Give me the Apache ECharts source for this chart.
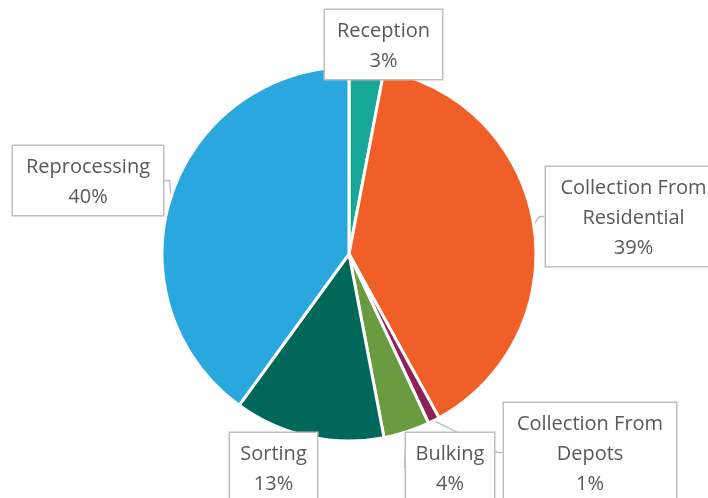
<!DOCTYPE html>
<html>
<head>
<meta charset="utf-8">
<script src="https://cdn.jsdelivr.net/npm/echarts@6/dist/echarts.min.js"></script>
<style>
  html, body { margin: 0; padding: 0; background: #fff; }
  #chart { width: 708px; height: 498px; }
</style>
</head>
<body>
<div id="chart"></div>
<script>
// data
var categories = ['Reception', 'Collection From Residential', 'Collection From Depots', 'Bulking', 'Sorting', 'Reprocessing'];
var shares = [3, 39, 1, 4, 13, 40];
var colors = ['#17a899', '#f15f29', '#8e2157', '#6a9b40', '#00675b', '#2ba7e0'];

// callout boxes: left, top, inner width, show pointer
var boxes = [
    { x: 325, y: 10, w: 97, line: false },
    { x: 546, y: 167, w: 155, line: true },
    { x: 504, y: 403, w: 152, line: true },
    { x: 406, y: 433, w: 68, line: true },
    { x: 230, y: 433, w: 67, line: false },
    { x: 13, y: 146, w: 130, line: true }
];

var myChart = echarts.init(document.getElementById('chart'));

var seriesData = categories.map(function (name, i) {
    return {
        name: name,
        value: shares[i],
        itemStyle: { color: colors[i] },
        label: { width: boxes[i].w },
        labelLine: { show: boxes[i].line }
    };
});

var option = {
    backgroundColor: '#fff',
    animation: false,
    series: [{
        type: 'pie',
        center: [349, 254],
        radius: 187,
        startAngle: 90,
        clockwise: true,
        itemStyle: {
            borderColor: '#fff',
            borderWidth: 3
        },
        label: {
            show: true,
            position: 'outside',
            formatter: function (p) {
                return p.name.replace('From ', 'From\n') + '\n' + p.value + '%';
            },
            color: '#595959',
            fontFamily: '"Open Sans", sans-serif',
            fontSize: 20,
            lineHeight: 30,
            align: 'center',
            overflow: 'none',
            backgroundColor: '#fff',
            borderColor: '#bfbfbf',
            borderWidth: 1.5,
            padding: [6, 10, 3, 10]
        },
        labelLine: {
            length: 5,
            length2: 5,
            lineStyle: { color: '#bfbfbf', width: 1.5 }
        },
        labelLayout: function (params) {
            var b = boxes[params.dataIndex];
            return {
                x: b.x + b.w / 2 + 10,
                y: b.y,
                align: 'center',
                verticalAlign: 'top'
            };
        },
        data: seriesData
    }]
};

myChart.setOption(option);
</script>
</body>
</html>
